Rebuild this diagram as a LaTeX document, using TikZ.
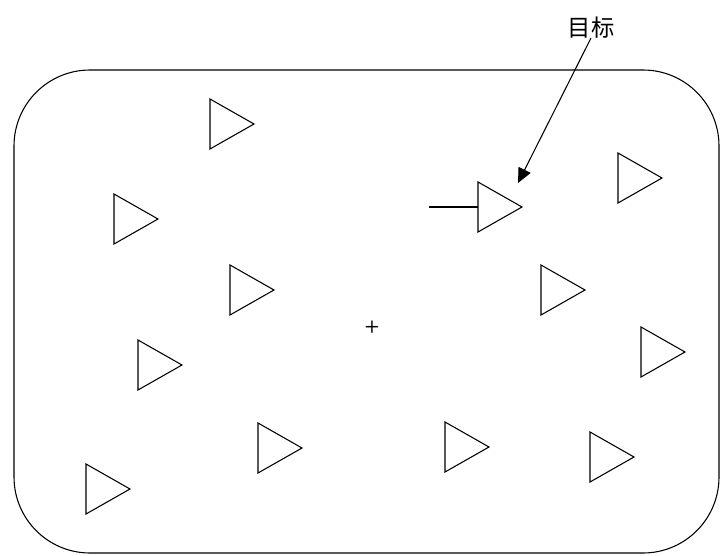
\documentclass[tikz,border=0pt]{standalone}
\usepackage{fontspec}
\newfontfamily\cjk{Noto Sans CJK SC}
\usetikzlibrary{arrows.meta}

\tikzset{
  tgt/.pic={
    \draw (0,-25) -- (44,0) -- (0,25) -- cycle;
    \coordinate (-w) at (0,0);
  },
}

\begin{document}
\begin{tikzpicture}[x=0.75pt, y=-0.75pt, line width=0.8pt, line join=miter]
    \useasboundingbox (0,0) rectangle (720,556);
    % field
    \draw[rounded corners=57pt] (14,70) rectangle (719,553);
    % targets, given by their left edge
    \foreach \n/\x/\y in {1/210/124, 2/114/219, 3/230/290, 4/138/365, 5/258/448,
                          6/86/489, 7/478/207, 8/618/178, 9/541/290, 10/641/352,
                          11/445/447, 12/590/457}
        \pic (t\n) at (\x,\y) {tgt};
    \node[font=\sffamily\bfseries\fontsize{13}{15}\selectfont] (ctr) at (372,327) {+};
    \draw (429,207) coordinate (hd) -- (t7-w);
    % label
    \node[font=\cjk\fontsize{17.5}{20}\selectfont, inner sep=1pt] (lbl) at (591,28) {目标};
    \coordinate (tip) at (518,183);
    \draw[-{Triangle[length=11pt,width=10pt]}] (591,38) -- (tip);
\end{tikzpicture}
\end{document}
